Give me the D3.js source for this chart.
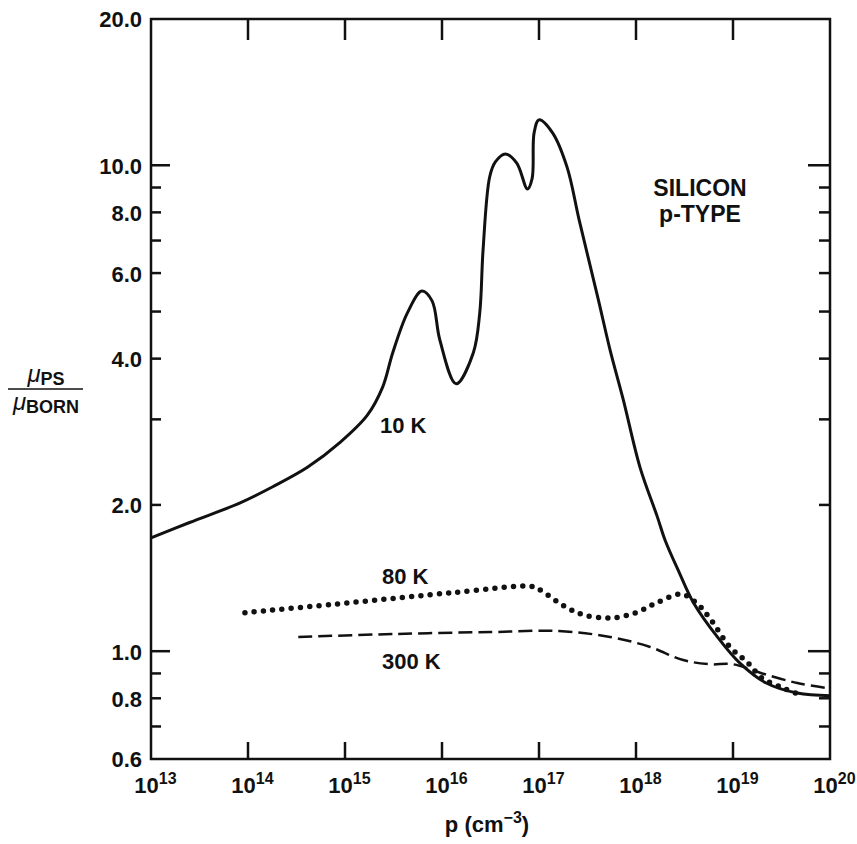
<!DOCTYPE html>
<html>
<head>
<meta charset="utf-8">
<script src="https://d3js.org/d3.v7.min.js"></script>
<style>
  body { margin: 0; background: #fff; }
  svg { display: block; font-family: "Liberation Sans", Arial, sans-serif; font-weight: bold; }
  .tick text { fill: #111; font-size: 22px; font-weight: bold; }
  .lbl { fill: #111; font-size: 22px; font-weight: bold; }
  .tk { stroke: #111; stroke-width: 2.5; }
</style>
</head>
<body>
<div id="chart"></div>
<script>
// hole density p (cm^-3) and mu_PS / mu_BORN
const p10K = [1e13, 2.5e13, 8.3e13, 1.8e14, 4.1e14, 8.9e14, 1.7e15, 2.45e15, 3.1e15, 4.4e15,
  6.2e15, 7.9e15, 9.5e15, 1.4e16, 2.1e16, 2.45e16, 2.65e16, 3.1e16, 3.55e16, 4.5e16,
  5.9e16, 7.6e16, 8.5e16, 8.9e16, 1.0e17, 1.38e17, 1.95e17, 2.6e17, 4.1e17, 5.4e17,
  7.4e17, 1.1e18, 1.66e18, 2.0e18, 2.8e18, 3.9e18, 6.9e18, 1.17e19, 2.2e19, 4.6e19, 1e20];
const mu10K = [1.71, 1.84, 2.02, 2.18, 2.39, 2.69, 3.06, 3.5, 4.11, 4.97,
  5.51, 5.26, 4.37, 3.55, 4.11, 4.97, 6.69, 9.46, 10.16, 10.55,
  10.1, 8.94, 9.4, 11.66, 12.4, 11.66, 9.9, 7.7, 5.28, 4.17,
  3.29, 2.39, 1.89, 1.69, 1.45, 1.26, 1.07, 0.946, 0.86, 0.82, 0.81];

const p80K = [9.3e13, 1.2e15, 1.3e16, 8.1e16, 1.0e17, 1.8e17, 2.8e17, 5.4e17, 1.0e18,
  1.66e18, 2.95e18, 4.3e18, 5.75e18, 9.3e18, 1.4e19, 2.0e19, 3.3e19, 5.1e19];
const mu80K = [1.20, 1.26, 1.32, 1.36, 1.34, 1.24, 1.19, 1.17, 1.20,
  1.26, 1.31, 1.25, 1.17, 1.02, 0.95, 0.88, 0.84, 0.81];

const p300K = [3.3e14, 3.2e15, 3.2e16, 1.6e17, 5.4e17, 1.4e18, 3.0e18, 5.75e18, 1e19,
  2.0e19, 4.6e19, 9.3e19];
const mu300K = [1.07, 1.085, 1.095, 1.10, 1.07, 1.02, 0.96, 0.94, 0.94,
  0.90, 0.86, 0.84];

const xDecades = [13, 14, 15, 16, 17, 18, 19, 20];
const yLabels = [20, 10, 8, 6, 4, 2, 1, 0.8, 0.6];
const yMajor = [10, 1];
const yMinor = [9, 8, 7, 6, 5, 4, 3, 2, 0.9, 0.8, 0.7];

const W = 857, H = 844;
const plotL = 151, plotR = 830, plotT = 19, plotB = 759;

const svg = d3.select('#chart').append('svg')
  .attr('width', W).attr('height', H);

const x = d3.scaleLog().domain([1e13, 1e20]).range([plotL, plotR]);
const y = d3.scaleLog().domain([0.6, 20]).range([plotB, plotT]);
const xTicks = xDecades.map(e => Math.pow(10, e));

// left labels
svg.append('g').attr('transform', `translate(${plotL},0)`)
  .call(d3.axisLeft(y).tickValues(yLabels).tickSize(0).tickPadding(9)
    .tickFormat(d3.format('.1f')))
  .call(g => g.select('.domain').remove())
  .call(g => g.selectAll('.tick text').attr('dy', '0.36em'));

// bottom labels 10^n
svg.append('g').attr('transform', `translate(0,${plotB})`)
  .call(d3.axisBottom(x).tickValues(xTicks).tickSize(0).tickFormat(''))
  .call(g => g.select('.domain').remove())
  .call(g => g.selectAll('.tick').each(function(d) {
    const t = d3.select(this).append('text')
      .attr('class', 'lbl').attr('x', 4).attr('y', 34)
      .attr('text-anchor', 'middle');
    t.append('tspan').text('10');
    t.append('tspan').attr('dy', -9).style('font-size', '16px')
      .text(Math.round(Math.log10(d)));
  }));

// inward tick marks on all four sides
const tg = svg.append('g');
function yTicks(vals, x0, len) {
  tg.selectAll(null).data(vals).join('line').attr('class', 'tk')
    .attr('x1', x0).attr('x2', x0 + len)
    .attr('y1', d => y(d)).attr('y2', d => y(d));
}
function xTickMarks(vals, y0, len) {
  tg.selectAll(null).data(vals).join('line').attr('class', 'tk')
    .attr('y1', y0).attr('y2', y0 + len)
    .attr('x1', d => x(d)).attr('x2', d => x(d));
}
yTicks(yMajor, plotL, 19);
yTicks(yMinor, plotL, 10);
yTicks(yMajor, plotR, -22);
yTicks(yMinor, plotR, -11);
xTickMarks(xTicks.slice(1, -1), plotT, 21);
xTickMarks(xTicks.slice(1, -1), plotB, -17);

// frame
svg.append('rect')
  .attr('x', plotL).attr('y', plotT)
  .attr('width', plotR - plotL).attr('height', plotB - plotT)
  .attr('fill', 'none').attr('stroke', '#111').attr('stroke-width', 2.5);

const line = d3.line()
  .x(d => x(d[0])).y(d => y(d[1]))
  .curve(d3.curveCatmullRom.alpha(0.5));

svg.append('path')
  .datum(d3.zip(p10K, mu10K))
  .attr('d', line)
  .attr('fill', 'none').attr('stroke', '#111').attr('stroke-width', 3);

svg.append('path')
  .datum(d3.zip(p80K, mu80K))
  .attr('d', line)
  .attr('fill', 'none').attr('stroke', '#111').attr('stroke-width', 5.5)
  .attr('stroke-linecap', 'round').attr('stroke-dasharray', '0 9.3');

svg.append('path')
  .datum(d3.zip(p300K, mu300K))
  .attr('d', line)
  .attr('fill', 'none').attr('stroke', '#111').attr('stroke-width', 2.5)
  .attr('stroke-dasharray', '14 6');

// curve labels
svg.append('text').attr('class', 'lbl').attr('x', 380).attr('y', 433).text('10 K');
svg.append('text').attr('class', 'lbl').attr('x', 382).attr('y', 584).text('80 K');
svg.append('text').attr('class', 'lbl').attr('x', 382).attr('y', 669).text('300 K');
svg.append('text').attr('class', 'lbl').attr('x', 700).attr('y', 196)
  .attr('text-anchor', 'middle').style('font-size', '23px').text('SILICON');
svg.append('text').attr('class', 'lbl').attr('x', 700).attr('y', 222)
  .attr('text-anchor', 'middle').style('font-size', '23px').text('p-TYPE');

// x title
const xt = svg.append('text').attr('class', 'lbl')
  .attr('x', 487).attr('y', 832).attr('text-anchor', 'middle');
xt.append('tspan').text('p (cm');
xt.append('tspan').attr('dy', -9).style('font-size', '16px').text('\u22123');
xt.append('tspan').attr('dy', 9).text(')');

// y title as a fraction
const num = svg.append('text').attr('class', 'lbl').attr('x', 46).attr('y', 382)
  .attr('text-anchor', 'middle');
num.append('tspan').style('font-style', 'italic').style('font-weight', 'normal')
  .style('font-size', '24px').text('\u03bc');
num.append('tspan').attr('dy', 3).style('font-size', '18px').text('PS');
svg.append('line').attr('x1', 8).attr('x2', 83).attr('y1', 389).attr('y2', 389)
  .attr('stroke', '#111').attr('stroke-width', 1.5);
const den = svg.append('text').attr('class', 'lbl').attr('x', 46).attr('y', 410)
  .attr('text-anchor', 'middle');
den.append('tspan').style('font-style', 'italic').style('font-weight', 'normal')
  .style('font-size', '24px').text('\u03bc');
den.append('tspan').attr('dy', 3).style('font-size', '18px').text('BORN');
</script>
</body>
</html>
